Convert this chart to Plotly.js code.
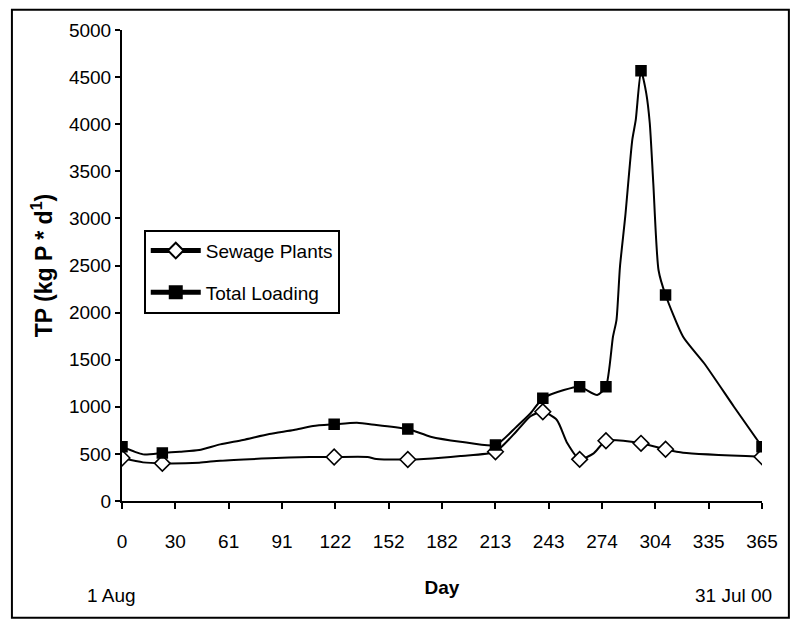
<!DOCTYPE html>
<html>
<head>
<meta charset="utf-8">
<script src="https://cdn.plot.ly/plotly-3.0.1.min.js"></script>
<style>
  html, body { margin: 0; padding: 0; background: #fff; }
  #chart { width: 795px; height: 624px; }
</style>
</head>
<body>
<div id="chart"></div>
<script>
// Sample days (marked points)
const sampleDays = [0, 23, 121, 163, 213, 240, 261, 276, 296, 310, 365];

// Sewage Plants curve
const sewageDays = [0, 12, 23, 44, 56, 84, 107, 121, 140, 145, 163, 172, 193, 213, 225, 233, 240, 248, 254, 261, 269, 276, 296, 310, 320, 365];
const sewageTP   = [456, 410, 400, 407, 428, 453, 467, 467, 467, 446, 440, 446, 478, 523, 740, 900, 948, 860, 612, 442, 506, 640, 612, 549, 513, 470];

// Total Loading curve
const totalDays = [0, 12, 23, 33, 44, 56, 69, 84, 98, 109, 121, 134, 145, 163, 176, 193, 213, 225, 233, 240, 252, 261, 271, 276, 280, 282, 284, 287, 291, 293, 296, 299, 301, 303, 306, 310, 320, 332, 349, 365];
const totalTP   = [576, 495, 510, 523, 541, 601, 648, 711, 754, 796, 814, 831, 807, 764, 683, 630, 594, 789, 931, 1090, 1178, 1213, 1125, 1213, 1744, 1921, 2487, 3018, 3832, 4045, 4568, 4328, 4010, 3373, 2450, 2187, 1744, 1462, 1001, 576];

// Axis tick labels
const xTickVals = [0, 30.42, 60.83, 91.25, 121.67, 152.08, 182.5, 212.92, 243.33, 273.75, 304.17, 334.58, 365];
const xTickText = ["0", "30", "61", "91", "122", "152", "182", "213", "243", "274", "304", "335", "365"];
const yTickVals = [0, 500, 1000, 1500, 2000, 2500, 3000, 3500, 4000, 4500, 5000];

const seriesNames = ["Sewage Plants", "Total Loading"];
const startLabel = "1 Aug";
const endLabel = "31 Jul 00";

const FONT = "Liberation Sans, Arial, sans-serif";

function sizesFor(days, size) {
  return days.map(d => sampleDays.includes(d) ? size : 0);
}

const traces = [
  {
    x: sewageDays, y: sewageTP, name: seriesNames[0],
    type: "scatter", mode: "lines+markers",
    line: { color: "#000", width: 2, shape: "spline", smoothing: 0.6 },
    marker: { symbol: "diamond", color: "#fff", opacity: 1, size: sizesFor(sewageDays, 12),
              line: { color: "#000", width: 1.6 } },
    legendgroup: "a"
  },
  {
    x: totalDays, y: totalTP, name: seriesNames[1],
    type: "scatter", mode: "lines+markers",
    line: { color: "#000", width: 2, shape: "spline", smoothing: 0.6 },
    marker: { symbol: "square", color: "#000", opacity: 1, size: sizesFor(totalDays, 10),
              line: { color: "#000", width: 1.5 } },
    legendgroup: "b"
  }
];

const layout = {
  width: 795, height: 624,
  margin: { l: 122, r: 33, t: 30, b: 123 },
  paper_bgcolor: "#fff", plot_bgcolor: "#fff",
  font: { family: FONT, size: 19, color: "#000" },
  showlegend: true,
  legend: {
    x: 0.034, y: 0.576, xanchor: "left", yanchor: "top",
    bgcolor: "#fff", bordercolor: "#000", borderwidth: 2,
    font: { family: FONT, size: 19, color: "#000" },
    traceorder: "grouped", tracegroupgap: 14, itemsizing: "constant", itemwidth: 50
  },
  xaxis: {
    range: [0, 365], showgrid: false, zeroline: false,
    showline: true, linecolor: "#000", linewidth: 2,
    ticks: "outside", ticklen: 6, tickwidth: 2, tickcolor: "#000",
    tickmode: "array", tickvals: xTickVals, ticktext: xTickText,
    ticklabelstandoff: 16,
    title: { text: "<b>Day</b>", font: { family: FONT, size: 19 }, standoff: 30 }
  },
  yaxis: {
    range: [0, 5000], showgrid: false, zeroline: false,
    showline: true, linecolor: "#000", linewidth: 2,
    ticks: "outside", ticklen: 5, tickwidth: 2, tickcolor: "#000",
    tickmode: "array", tickvals: yTickVals,
    title: { text: "<b>TP (kg P * d<sup>1</sup>)</b>", font: { family: FONT, size: 23 }, standoff: 10 }
  },
  annotations: [
    { text: startLabel, xref: "paper", yref: "paper", x: -0.016, y: -0.2,
      xanchor: "center", yanchor: "middle", showarrow: false, font: { family: FONT, size: 19 } },
    { text: endLabel, xref: "paper", yref: "paper", x: 0.955, y: -0.2,
      xanchor: "center", yanchor: "middle", showarrow: false, font: { family: FONT, size: 19 } }
  ],
  shapes: [
    { type: "rect", xref: "paper", yref: "paper",
      x0: -0.172, x1: 1.042, y0: -0.248, y1: 1.043,
      line: { color: "#000", width: 2 }, layer: "below" }
  ]
};

Plotly.newPlot("chart", traces, layout, { staticPlot: true, displayModeBar: false });
</script>
</body>
</html>
